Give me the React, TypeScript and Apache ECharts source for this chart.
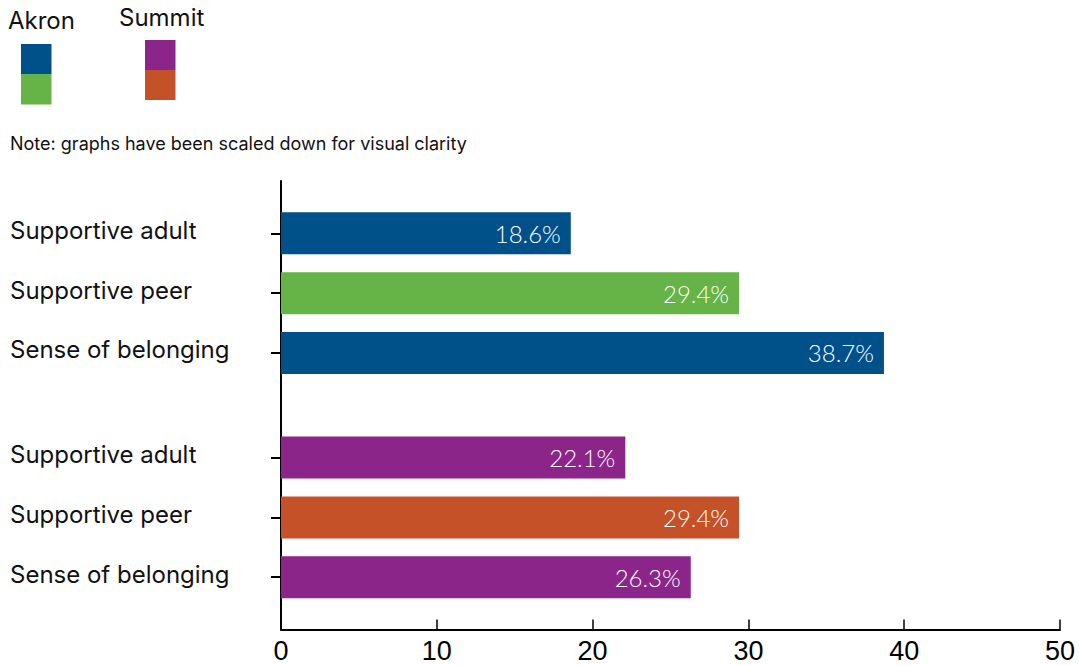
import React, { useEffect, useRef } from "react";
import * as echarts from "echarts";

// ---- data ----
const categories = [
  "Supportive adult",
  "Supportive peer",
  "Sense of belonging",
  "Supportive adult",
  "Supportive peer",
  "Sense of belonging",
];
const groups = ["Akron", "Akron", "Akron", "Summit", "Summit", "Summit"];
const values = [18.6, 29.4, 38.7, 22.1, 29.4, 26.3];
const barColors = ["#00508a", "#66b347", "#00508a", "#8b2589", "#c45128", "#8b2589"];
const xTicks = [0, 10, 20, 30, 40, 50];
const legendGroups = ["Akron", "Summit"];
const legendColors = [
  ["#00508a", "#66b347"],
  ["#8b2589", "#c45128"],
];
const noteText = "Note: graphs have been scaled down for visual clarity";

// ---- layout (slot positions on the category axis) ----
const SLOT_COUNT = 30;
const SLOT_INDEX = [3, 7, 11, 18, 22, 26];

export default function App() {
  const ref = useRef<HTMLDivElement>(null);

  useEffect(() => {
    if (!ref.current) return;
    const chart = echarts.init(ref.current, null, { renderer: "svg" });

    const slotLabels: string[] = new Array(SLOT_COUNT).fill("");
    const slotData: any[] = new Array(SLOT_COUNT).fill(null);
    SLOT_INDEX.forEach((si, i) => {
      slotLabels[si] = categories[i];
      slotData[si] = {
        value: values[i],
        name: groups[i] + " " + categories[i],
        itemStyle: { color: barColors[i] },
      };
    });

    const textFont = "Inter, 'Liberation Sans', Arial, sans-serif";

    chart.setOption({
      animation: false,
      backgroundColor: "#ffffff",
      grid: { left: 281, right: 19, top: 181, bottom: 36.5, containLabel: false },
      xAxis: {
        type: "value",
        min: xTicks[0],
        max: xTicks[xTicks.length - 1],
        interval: 10,
        axisLine: { show: true, lineStyle: { color: "#000", width: 2 } },
        axisTick: { show: true, inside: true, length: 10, lineStyle: { color: "#000", width: 1.5 } },
        splitLine: { show: false },
        axisLabel: {
          color: "#000",
          fontFamily: "'Liberation Sans', Arial, sans-serif",
          fontSize: 27,
          lineHeight: 22,
          margin: 10,
        },
      },
      yAxis: {
        type: "category",
        inverse: true,
        data: slotLabels,
        axisLine: { show: true, lineStyle: { color: "#000", width: 2 } },
        axisTick: {
          show: true,
          alignWithLabel: true,
          length: 10,
          interval: (idx: number, val: string) => val !== "",
          lineStyle: { color: "#000", width: 2 },
        },
        axisLabel: {
          interval: 0,
          align: "left",
          verticalAlign: "bottom",
          lineHeight: 6,
          margin: 271,
          color: "#111",
          fontFamily: textFont,
          fontSize: 24,
        },
        splitLine: { show: false },
      },
      series: [
        {
          type: "bar",
          data: slotData,
          barWidth: 42,
          label: {
            show: true,
            position: "insideRight",
            distance: 10,
            color: "#fff",
            fontFamily: "Lato, 'Liberation Sans', sans-serif",
            fontWeight: 300,
            fontSize: 24,
            formatter: (p: any) => Number(p.value).toFixed(1) + "%",
          },
        },
      ],
      graphic: [
        {
          type: "text",
          left: 8,
          top: 8,
          style: { text: legendGroups[0], font: `24px ${textFont}`, fill: "#111" },
        },
        { type: "rect", shape: { x: 21, y: 44, width: 30.5, height: 30 }, style: { fill: legendColors[0][0] } },
        { type: "rect", shape: { x: 21, y: 74, width: 30.5, height: 30.5 }, style: { fill: legendColors[0][1] } },
        {
          type: "text",
          left: 119,
          top: 5,
          style: { text: legendGroups[1], font: `24px ${textFont}`, fill: "#111" },
        },
        { type: "rect", shape: { x: 145, y: 40, width: 30.5, height: 30 }, style: { fill: legendColors[1][0] } },
        { type: "rect", shape: { x: 145, y: 70, width: 30.5, height: 30 }, style: { fill: legendColors[1][1] } },
        {
          type: "text",
          left: 10,
          top: 134,
          style: { text: noteText, font: `18px ${textFont}`, fill: "#111" },
        },
      ],
    });

    return () => chart.dispose();
  }, []);

  return (
    <div
      ref={ref}
      style={{ position: "fixed", left: 0, top: 0, width: 1079, height: 666, background: "#fff" }}
    />
  );
}
